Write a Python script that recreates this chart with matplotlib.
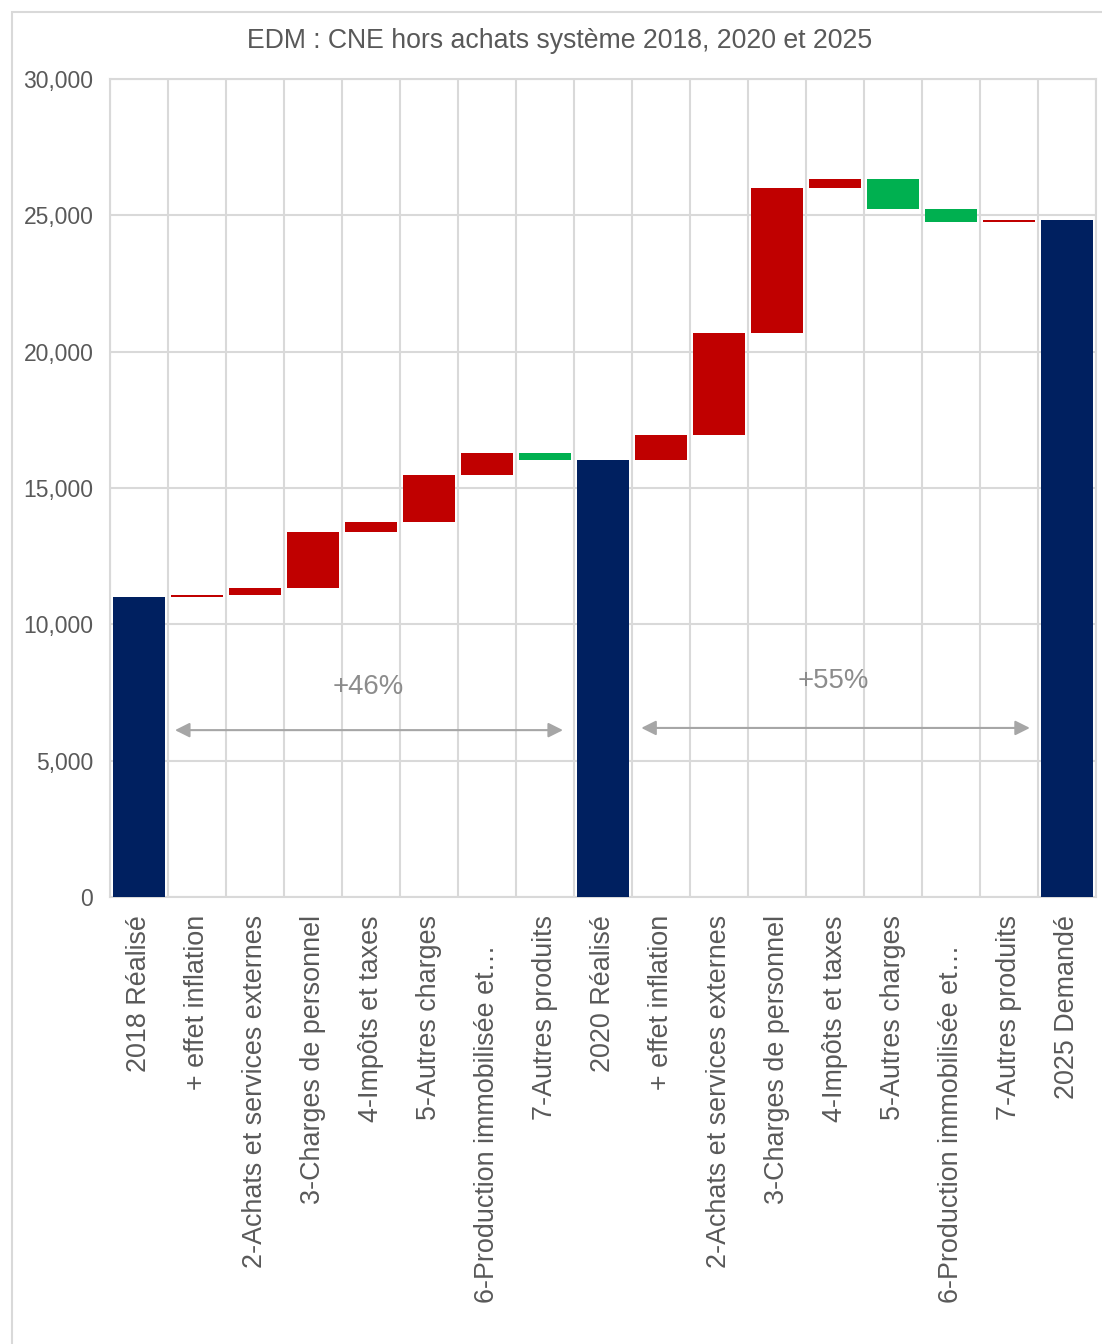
import numpy as np
import matplotlib.pyplot as plt
from matplotlib.patches import Rectangle

plt.rcParams['font.family'] = ['Liberation Sans', 'DejaVu Sans']

NAVY = '#002060'
RED = '#C00000'
GREEN = '#00B050'
GRID = '#d9d9d9'
TXT = '#595959'

labels = ['2018 Réalisé', '+ effet inflation', '2-Achats et services externes',
          '3-Charges de personnel', '4-Impôts et taxes', '5-Autres charges',
          '6-Production immobilisée et…    ', '7-Autres produits',
          '2020 Réalisé', '+ effet inflation', '2-Achats et services externes',
          '3-Charges de personnel', '4-Impôts et taxes', '5-Autres charges',
          '6-Production immobilisée et…    ', '7-Autres produits', '2025 Demandé']

total_2018 = 11000
steps_2020 = [60, 270, 2040, 370, 1750, 780, -250]
steps_2025 = [940, 3730, 5330, 310, -1090, -470, 50]

pct_labels = ['+46%', '+55%']

# waterfall: bottoms / heights from the steps
total_2020 = total_2018 + sum(steps_2020)

bottoms, heights, colors = [0], [total_2018], [NAVY]
for start, steps in ((total_2018, steps_2020), (total_2020, steps_2025)):
    level = start
    for s in steps:
        bottoms.append(min(level, level + s))
        heights.append(abs(s))
        colors.append(RED if s > 0 else GREEN)
        level += s
    bottoms.append(0)
    heights.append(level)
    colors.append(NAVY)

fig = plt.figure(figsize=(11.02, 13.44), dpi=100)
fig.patches.append(Rectangle((12 / 1102, -0.01), 1.0, 1 - 12 / 1344 + 0.01,
                             transform=fig.transFigure, fill=False,
                             edgecolor=GRID, lw=1.5))
ax = fig.add_axes([110 / 1102, 1 - 897 / 1344, (1096 - 110) / 1102, (897 - 79) / 1344])

x = np.arange(len(labels))
ax.bar(x, heights, bottom=bottoms, width=0.9, color=colors, zorder=3, lw=0)

ax.set_xlim(-0.5, len(labels) - 0.5)
ax.set_ylim(0, 30000)
ax.set_yticks(np.arange(0, 30001, 5000))
ax.set_yticklabels(['{:,.0f}'.format(v) for v in np.arange(0, 30001, 5000)])
ax.set_xticks(x)
ax.set_xticklabels(labels, rotation=90, fontsize=19.4, color=TXT)
ax.set_xticks(np.arange(-0.5, len(labels), 1), minor=True)
ax.tick_params(axis='y', labelsize=16.5, labelcolor=TXT, length=0, pad=12)
ax.tick_params(axis='x', which='both', length=0, pad=13)
ax.grid(axis='y', color=GRID, lw=1.5, zorder=0)
ax.grid(axis='x', which='minor', color=GRID, lw=1.5, zorder=0)
for sp in ax.spines.values():
    sp.set_color(GRID)
    sp.set_linewidth(1.5)

# growth arrows
arrow_kw = dict(arrowstyle='<|-|>', color='#a6a6a6', lw=1.5, mutation_scale=22,
                shrinkA=0, shrinkB=0)
ax.annotate('', xy=(0.62, 6120), xytext=(7.31, 6120), arrowprops=arrow_kw)
ax.annotate('', xy=(8.66, 6200), xytext=(15.36, 6200), arrowprops=arrow_kw)
ax.text(3.95, 7700, pct_labels[0], ha='center', va='center', fontsize=19.8, color='#8c8c8c')
ax.text(11.97, 7920, pct_labels[1], ha='center', va='center', fontsize=19.8, color='#8c8c8c')

fig.text(560 / 1102, 1 - 41 / 1344, 'EDM : CNE hors achats système 2018, 2020 et 2025',
         ha='center', va='center', fontsize=19.2, color=TXT)

fig.savefig('out.png', dpi=100)
